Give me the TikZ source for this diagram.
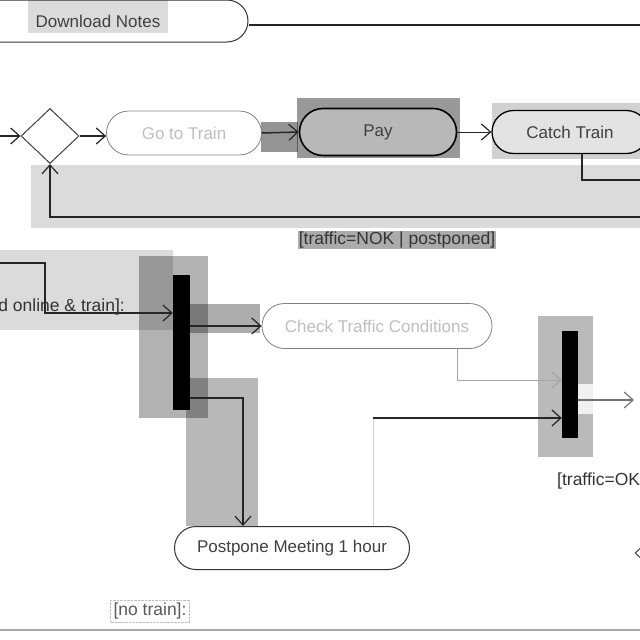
\documentclass[tikz,border=0pt]{standalone}
\usepackage{fontspec}
\setmainfont{Liberation Sans}
\usetikzlibrary{shapes.misc,shapes.geometric,arrows.meta}

\tikzset{
  act/.style={draw=black!80, rounded rectangle, line width=1pt, inner sep=0pt,
    font=\fontsize{17}{20}\selectfont, text=black!75},
  faint/.style={act, draw=black!50, line width=0.8pt, text=black!25},
  decision/.style={draw=black!75, diamond, line width=1pt, inner sep=0pt,
    minimum width=58pt, minimum height=55pt},
  bar/.style={fill=black, inner sep=0pt, minimum width=17pt},
  flow/.style={draw=black!85, line width=1.5pt,
    -{Straight Barb[length=9pt,width=16pt,line width=1.2pt]}},
  hl/.style={fill=black, fill opacity=#1},
  guard/.style={inner sep=1pt, font=\fontsize{17.5}{20}\selectfont, text=black!80},
}

\begin{document}
\begin{tikzpicture}[x=1pt,y=-1pt]
  \useasboundingbox (0,0) rectangle (640,640);
  \clip (0,0) rectangle (640,640);
  \fill[white] (0,0) rectangle (640,640);

  %% highlighted areas
  \fill[hl=0.14] (28,0) rectangle (168,33);      %% download notes
  \fill[hl=0.42] (261,122) rectangle (298,152);  %% go to train -> pay
  \fill[hl=0.40] (297,98) rectangle (460,158);   %% pay
  \fill[hl=0.18] (492,103) rectangle (640,159);  %% catch train
  \fill[hl=0.14] (31,165) rectangle (640,228);   %% loop back
  \fill[hl=0.14] (0,250) rectangle (173,330);
  \fill[hl=0.30] (139,256) rectangle (208,418);  %% fork
  \fill[hl=0.32] (190,304) rectangle (260,333);  %% fork -> check
  \fill[hl=0.28] (186,378) rectangle (258,526);  %% fork -> postpone
  \fill[hl=0.27] (538,316) rectangle (593,457);  %% join
  \fill[black!6] (578,384) rectangle (593,414);

  \draw[black!35, line width=2.5pt] (0,630) -- (640,630); %% lane border

  %% actions
  \node[act, minimum width=300pt, minimum height=42pt] (notes) at (98,21) {Download Notes};
  \node[decision] (dec) at (50,136) {};
  \node[faint, fill=white, minimum width=155pt, minimum height=44pt] (goto) at (184,133) {Go to Train};
  \node[act, fill=black!28, draw=black, line width=1.6pt, minimum width=157pt,
    minimum height=47pt] (pay) at (378,132) {Pay};
  \node[act, fill=black!11, draw=black, line width=1.3pt, minimum width=156pt,
    minimum height=43pt] (catch) at (570,132) {Catch Train};

  \node[bar, minimum height=135pt] (fork) at (181.5,342.5) {};
  \node[faint, fill=white, minimum width=230pt, minimum height=45pt] (check) at (377,326) {Check Traffic Conditions};
  \node[bar, minimum width=16pt, minimum height=107pt] (join) at (570,384.5) {};
  \node[act, fill=white, minimum width=235pt, minimum height=43pt] (post) at (292,548) {Postpone Meeting 1 hour};
  \node[decision, minimum width=50pt, minimum height=46pt] (merge) at (660,553) {};

  %% connectors
  \coordinate (notesR) at (640,25);
  \draw[line width=1.5pt, black!85] (notes.east |- notesR) -- (notesR);

  \coordinate (inA) at (0,136);
  \draw[flow] (inA) -- (dec.west);
  \draw[flow] (dec.east) -- (dec.east -| goto.west);
  \draw[flow] (goto.east) -- (pay.west);
  \draw[flow, line width=1pt] (pay.east) -- (catch.west);

  \coordinate (catchR) at (640,180);
  \draw[line width=1.5pt, black!85] ([xshift=12pt]catch.south) |- (catchR);
  \coordinate (backR) at (640,217);
  \draw[flow] (backR) -| (dec.south);
  \node[guard, fill=black!33] (nok) at (397,240) {[traffic=NOK | postponed]};

  \coordinate (inB) at (0,263);
  \coordinate (kB) at (45,313);
  \draw[flow] (inB) -| (kB) -- (fork.west |- kB);
  \node[guard, anchor=east] (online) at (126,307) {d online \& train]:};

  \draw[flow] (fork.east |- check.west) -- (check.west);

  \coordinate (kC) at (457,380);
  \draw[flow, draw=black!35, line width=1pt] (check.south -| kC) |- (join.west |- kC);

  \coordinate (kD) at (373,418);
  \draw[black!18, line width=1pt] (post.north -| kD) -- (kD);
  \draw[flow] (kD) -- (join.west |- kD);

  \coordinate (outR) at (634,400);
  \draw[flow, draw=black!55, line width=1.2pt] (join.east |- outR) -- (outR);

  \coordinate (kE) at (243,398);
  \draw[flow] (fork.east |- kE) -| (post.north -| kE);

  \node[guard, anchor=west] (ok) at (556,481) {[traffic=OK]};
  \node[guard, draw=black!25, densely dotted, fill=white, text=black!65,
    inner sep=3pt] (notrain) at (150,611) {[no train]:};
\end{tikzpicture}
\end{document}
